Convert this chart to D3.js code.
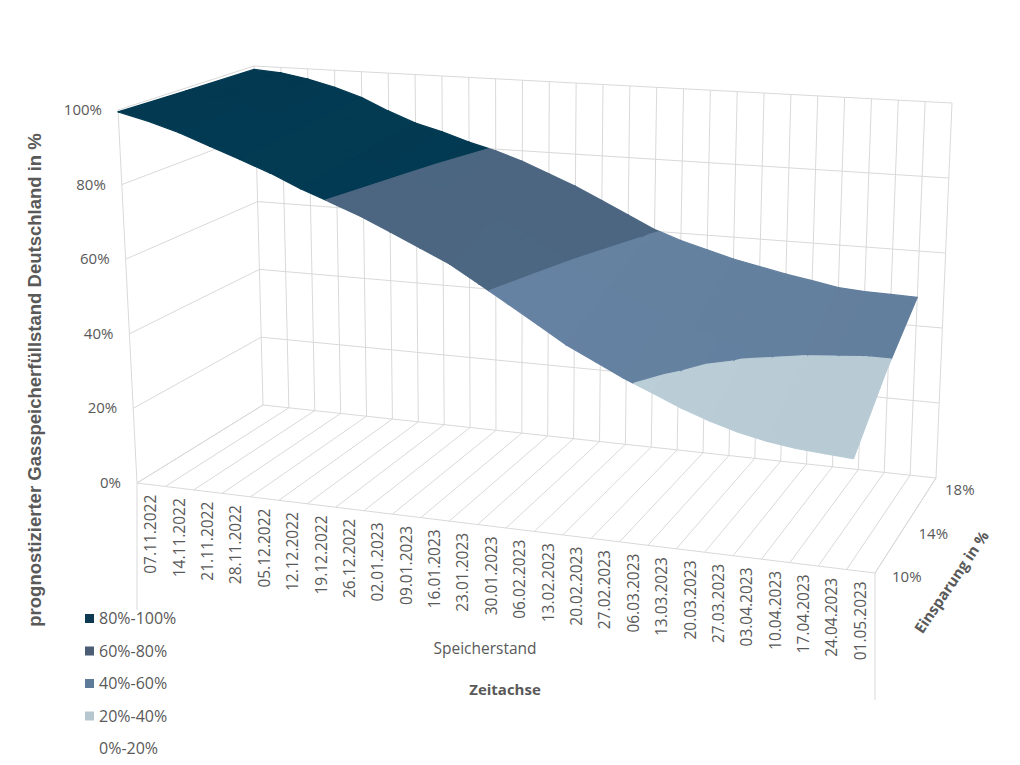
<!DOCTYPE html>
<html>
<head>
<meta charset="utf-8">
<script src="https://cdn.jsdelivr.net/npm/d3@7"></script>
<style>
  body { margin: 0; background: #fff; }
  text { font-family: "Open Sans", "Noto Sans", sans-serif; fill: #595959; }
</style>
</head>
<body>
<div class="chart_container"></div>
<script>
// data
const dates = ["07.11.2022","14.11.2022","21.11.2022","28.11.2022","05.12.2022","12.12.2022","19.12.2022",
  "26.12.2022","02.01.2023","09.01.2023","16.01.2023","23.01.2023","30.01.2023","06.02.2023","13.02.2023",
  "20.02.2023","27.02.2023","06.03.2023","13.03.2023","20.03.2023","27.03.2023","03.04.2023","10.04.2023",
  "17.04.2023","24.04.2023","01.05.2023"];
const savings = ["10%", "14%", "18%"];
const fill10 = [99.5,97.5,95,92,89,86,82.5,79.5,76.5,73,69.5,66,61.5,57,52.5,48,44.5,41,38,35,32.5,30.5,29,28,27.5,27];
const fill14 = [99.2,98,96,93.5,90.8,87.5,84.2,81.8,79,76.2,73.2,70,66.2,62,58,54,50.5,47.5,45,43,41.5,40.5,39.5,39,38.5,38.5];
const fill18 = [99,98.4,97,95,92.5,89,86,84,81.5,79.5,77,74,71,67.5,64,60.5,58,56,54,52.5,51,49.8,48.5,48,47.8,47.6];
const yTicks = [0, 20, 40, 60, 80, 100];
const bands = ["80%-100%", "60%-80%", "40%-60%", "20%-40%", "0%-20%"];
const bandLow = [80, 60, 40, 20, 0];
const bandColors = ["#033a52", "#4b6580", "#64809f", "#b9ccd6", "#ffffff"];
const legendColors = ["#0d3a52", "#4a5d75", "#5e7b9a", "#b7c7d0", "#ffffff"];

const series = [fill10, fill14, fill18];

const width = 1020, height = 765;
const svg = d3.select(".chart_container").append("svg").attr("width", width).attr("height", height);

// scales: u along dates, v along depth, w height
const nCells = dates.length;
const uScale = d3.scaleLinear().domain([0, nCells]).range([0, 1]);
const vScale = d3.scalePoint().domain(savings).range([0, 1]);
const wScale = d3.scaleLinear().domain([0, 100]).range([0, 1]);

// box corners on screen
const C = {
  flb: [137, 483], flt: [118, 110],
  blb: [263, 405], blt: [254, 66],
  brb: [936, 478], brt: [952, 103],
  frb: [875, 573], frt: [902, 161]
};
const lerp = (a, b, t) => [a[0] + (b[0] - a[0]) * t, a[1] + (b[1] - a[1]) * t];
function proj(u, v, w) {
  const bot = lerp(lerp(C.flb, C.frb, u), lerp(C.blb, C.brb, u), v);
  const top = lerp(lerp(C.flt, C.frt, u), lerp(C.blt, C.brt, u), v);
  return lerp(bot, top, w);
}
const line = (pts) => "M" + pts.map(p => p.join(",")).join("L");
const grid = svg.append("g").attr("stroke", "#d9d9d9").attr("stroke-width", 1).attr("fill", "none");

// back wall + floor
for (let k = 0; k <= nCells; k++) {
  const u = uScale(k);
  grid.append("path").attr("d", line([proj(u, 1, 0), proj(u, 1, 1)]));
  grid.append("path").attr("d", line([proj(u, 0, 0), proj(u, 1, 0)]));
}
yTicks.forEach(t => {
  const w = wScale(t);
  grid.append("path").attr("d", line([proj(0, 1, w), proj(1, 1, w)]));
  grid.append("path").attr("d", line([proj(0, 0, w), proj(0, 1, w)]));
});
grid.append("path").attr("d", line([proj(0, 0, 0), proj(0, 0, 1)]));
grid.append("path").attr("d", line([proj(0, 0, 0), proj(1, 0, 0)]));
grid.append("path").attr("d", line([proj(1, 0, 0), proj(1, 1, 0)]));
// label box sides
grid.append("path").attr("d", line([proj(0, 0, 0), [137, 610]]));
grid.append("path").attr("d", line([proj(1, 0, 0), [875, 700]]));

// surface
function clip(poly, lo, hi) {
  const cut = (pts, keep, edge) => {
    const out = [];
    for (let i = 0; i < pts.length; i++) {
      const a = pts[i], b = pts[(i + 1) % pts.length];
      const ka = keep(a[2]), kb = keep(b[2]);
      if (ka) out.push(a);
      if (ka !== kb) {
        const t = (edge - a[2]) / (b[2] - a[2]);
        out.push([a[0] + (b[0] - a[0]) * t, a[1] + (b[1] - a[1]) * t, edge]);
      }
    }
    return out;
  };
  let p = cut(poly, z => z >= lo, lo);
  if (p.length) p = cut(p, z => z <= hi, hi);
  return p;
}
const surf = svg.append("g");
for (let j = series.length - 2; j >= 0; j--) {
  for (let i = 0; i < dates.length - 1; i++) {
    const v0 = vScale(savings[j]), v1 = vScale(savings[j + 1]);
    const u0 = uScale(i), u1 = uScale(i + 1);
    const a = [u0, v0, series[j][i]], b = [u1, v0, series[j][i + 1]];
    const c = [u1, v1, series[j + 1][i + 1]], d = [u0, v1, series[j + 1][i]];
    const slope = (series[j][i + 1] + series[j + 1][i + 1] - series[j][i] - series[j + 1][i]) / 2;
    const shade = Math.max(-0.12, Math.min(0.08, -slope * 0.015 - 0.02));
    [[a, b, c], [a, c, d]].forEach(tri => {
      bandLow.forEach((lo, bi) => {
        const piece = clip(tri, lo, lo + 20);
        if (piece.length < 3) return;
        const col = d3.color(bandColors[bi]).brighter(shade);
        const pts = piece.map(p => proj(p[0], p[1], wScale(p[2])));
        surf.append("path").attr("d", line(pts) + "Z").attr("fill", col).attr("stroke", col)
          .attr("stroke-width", 1.2).attr("stroke-linejoin", "round");
      });
    });
  }
}

// y axis labels
yTicks.forEach(t => {
  const p = proj(0, 0, wScale(t));
  svg.append("text").attr("x", p[0] - 16).attr("y", p[1] + 5).attr("text-anchor", "end")
    .attr("font-size", 15).text(t + "%");
});
// date labels
dates.forEach((d, k) => {
  const p = proj(uScale(k + 0.5), 0, 0);
  svg.append("text").attr("transform", `translate(${p[0] + 5},${p[1] + 10}) rotate(-90)`)
    .attr("text-anchor", "end").attr("font-size", 15.5).text(d);
});
// depth labels
savings.forEach(s => {
  const p = proj(1, vScale(s), 0);
  svg.append("text").attr("x", p[0] + 17 - vScale(s) * 8).attr("y", p[1] + 9 + vScale(s) * 8).attr("font-size", 15).text(s);
});
// titles
svg.append("text").attr("transform", "translate(41,380) rotate(-90)").attr("text-anchor", "middle")
  .style("font-family", "'Liberation Sans', Arial, sans-serif").attr("font-weight", "bold").attr("font-size", 18.5)
  .text("prognostizierter Gasspeicherfüllstand Deutschland in %");
svg.append("text").attr("x", 485).attr("y", 654).attr("text-anchor", "middle").attr("font-size", 15.5).text("Speicherstand");
svg.append("text").attr("x", 505).attr("y", 695).attr("text-anchor", "middle").attr("font-size", 15)
  .attr("font-weight", "bold").text("Zeitachse");
svg.append("text").attr("transform", "translate(956,585) rotate(-56)").attr("text-anchor", "middle")
  .attr("font-size", 15).attr("font-weight", "bold").text("Einsparung in %");

// legend
bands.forEach((b, i) => {
  const y = 619 + i * 32.5;
  svg.append("rect").attr("x", 85).attr("y", y - 5).attr("width", 9).attr("height", 9).attr("fill", legendColors[i]);
  svg.append("text").attr("x", 99).attr("y", y + 5).attr("font-size", 16).text(b);
});
</script>
</body>
</html>
